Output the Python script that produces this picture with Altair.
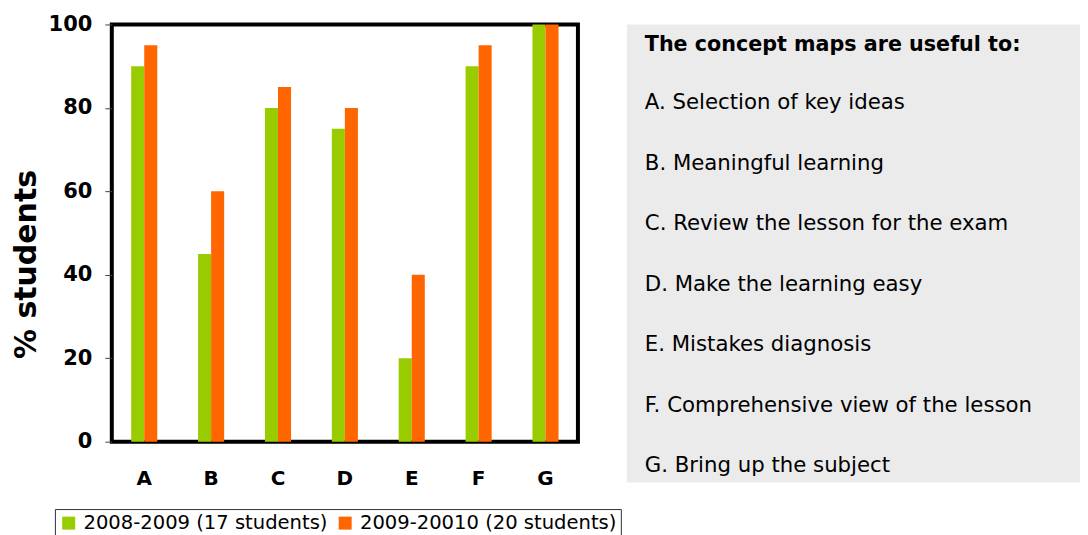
import altair as alt
import pandas as pd

categories = ["A", "B", "C", "D", "E", "F", "G"]
series_names = ["2008-2009 (17 students)", "2009-20010 (20 students)"]
values_2008_2009 = [90, 45, 80, 75, 20, 90, 100]
values_2009_2010 = [95, 60, 85, 80, 40, 95, 100]
y_ticks = [0, 20, 40, 60, 80, 100]
series_colors = ["#99CC00", "#FF6600"]
y_title = "% students"

panel_title = "The concept maps are useful to:"
panel_items = [
    "A. Selection of key ideas",
    "B. Meaningful learning",
    "C. Review the lesson for the exam",
    "D. Make the learning easy",
    "E. Mistakes diagnosis",
    "F. Comprehensive view of the lesson",
    "G. Bring up the subject",
]

FONT = "DejaVu Sans"

rows = []
for c, a, b in zip(categories, values_2008_2009, values_2009_2010):
    rows.append({"cat": c, "series": series_names[0], "value": a})
    rows.append({"cat": c, "series": series_names[1], "value": b})
df = pd.DataFrame(rows)

bars = alt.Chart(df).mark_bar().encode(
    x=alt.X(
        "cat:N",
        sort=categories,
        scale=alt.Scale(paddingInner=0.61, paddingOuter=0.29),
        axis=alt.Axis(
            title=None, labelAngle=0, labelFont=FONT, labelFontWeight="bold",
            labelFontSize=20, labelColor="black", ticks=False, domain=False,
            labelPadding=27,
        ),
    ),
    xOffset=alt.XOffset("series:N", sort=series_names),
    y=alt.Y(
        "value:Q",
        scale=alt.Scale(domain=[0, 100], nice=False),
        axis=alt.Axis(
            values=y_ticks, title=y_title, grid=False, domain=False,
            tickSize=7, tickColor="#444444", tickWidth=1,
            labelFont=FONT, labelFontWeight="bold", labelFontSize=21,
            labelColor="black", labelPadding=13,
            titleFont=FONT, titleFontWeight="bold", titleFontSize=30,
            titleColor="black", titlePadding=7, titleY=240,
        ),
    ),
    color=alt.Color(
        "series:N",
        scale=alt.Scale(domain=series_names, range=series_colors),
        legend=alt.Legend(
            title=None, orient="none", legendX=-57, legendY=485.5,
            direction="horizontal", symbolType="square", symbolSize=169,
            symbolStrokeWidth=0, symbolOpacity=1,
            labelFont=FONT, labelFontSize=19.6, labelColor="black",
            labelLimit=400, labelOffset=5, columnPadding=7, padding=4,
            strokeColor="#333333", fillColor="white",
        ),
    ),
).properties(
    width=467, height=418,
    view=alt.ViewBackground(stroke="black", strokeWidth=4),
)

panel_df = pd.DataFrame({
    "row": list(range(len(panel_items) + 1)),
    "text": [panel_title] + panel_items,
    "kind": ["title"] + ["item"] * len(panel_items),
})

ybase = alt.Y(
    "row:O",
    scale=alt.Scale(type="point", padding=0.29),
    axis=None,
)

panel_title_layer = alt.Chart(panel_df).transform_filter(
    alt.datum.kind == "title"
).mark_text(
    align="left", baseline="middle", font=FONT, fontSize=20.7,
    fontWeight="bold", color="black", dy=3,
).encode(x=alt.value(18), y=ybase, text="text:N")

panel_items_layer = alt.Chart(panel_df).transform_filter(
    alt.datum.kind == "item"
).mark_text(
    align="left", baseline="middle", font=FONT, fontSize=21.3,
    color="black", dy=1,
).encode(x=alt.value(18), y=ybase, text="text:N")

panel = alt.layer(panel_title_layer, panel_items_layer).properties(
    width=454, height=459,
    view=alt.ViewBackground(fill="#EBEBEB", strokeWidth=0),
)

chart = alt.hconcat(bars, panel, spacing=49, bounds="flush").resolve_scale(
    x="independent", y="independent", color="independent"
).resolve_legend(color="independent").properties(
    padding={"left": 1, "top": 3, "right": 0, "bottom": 0},
    background="white",
)

chart.save("out.html", embed_options={"renderer": "svg", "actions": False})
